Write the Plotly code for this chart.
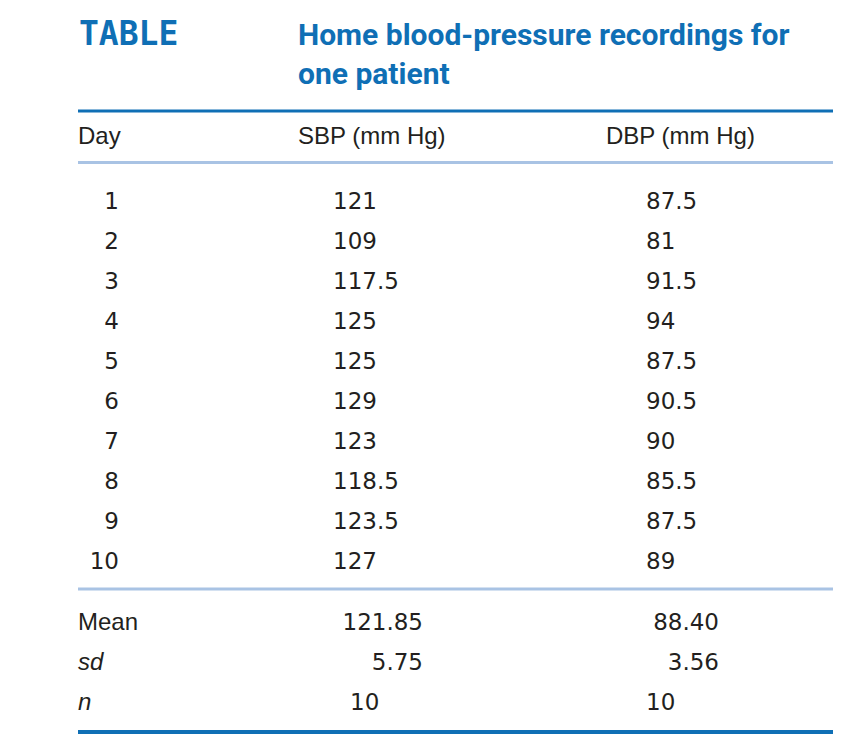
import plotly.graph_objects as go

# ---- data ----
days = [1, 2, 3, 4, 5, 6, 7, 8, 9, 10]
sbp = ["121", "109", "117.5", "125", "125", "129", "123", "118.5", "123.5", "127"]
dbp = ["87.5", "81", "91.5", "94", "87.5", "90.5", "90", "85.5", "87.5", "89"]
stat_labels = ["Mean", "<i>sd</i>", "<i>n</i>"]
sbp_stats = ["121.85", "5.75", "10"]
dbp_stats = ["88.40", "3.56", "10"]
headers = ["Day", "SBP (mm Hg)", "DBP (mm Hg)"]
title_tag = "TABLE"
title_text = "Home blood-pressure recordings for<br>one patient"

# ---- layout constants ----
PAGE_W, PAGE_H = 848, 748
OFF = 8  # default page body margin
W, H = PAGE_W - OFF, PAGE_H - OFF
TXT = "#231f20"
BLUE = "#0f6fb5"
LIGHT = "#a9c3e4"
LABEL_FONT = "Liberation Sans, Arial, sans-serif"
NUM_FONT = "DejaVu Sans, sans-serif"

row0_y = 203
row_step = 40
stat0_y = 624
header_y = 138

fig = go.Figure()

def text_trace(xs, ys, texts, pos, family=NUM_FONT, size=23):
    fig.add_trace(go.Scatter(
        x=xs, y=ys, text=texts, mode="text", textposition=pos,
        textfont=dict(family=family, size=size, color=TXT),
        hoverinfo="skip", showlegend=False, cliponaxis=False))

data_y = [row0_y + i * row_step for i in range(len(days))]
stat_y = [stat0_y + i * row_step for i in range(len(stat_labels))]

# header
text_trace([78, 298, 606], [header_y] * 3, headers, "middle right", LABEL_FONT, 24)
# day column (right aligned)
text_trace([119] * len(days), data_y, [str(d) for d in days], "middle left")
# SBP / DBP columns (left aligned)
text_trace([333] * len(sbp), data_y, sbp, "middle right")
text_trace([646] * len(dbp), data_y, dbp, "middle right")
# stats
text_trace([78] * 3, stat_y, stat_labels, "middle right", LABEL_FONT, 24)
text_trace([423] * 2, stat_y[:2], sbp_stats[:2], "middle left")
text_trace([350], stat_y[2:], sbp_stats[2:], "middle right")
text_trace([719] * 2, stat_y[:2], dbp_stats[:2], "middle left")
text_trace([646], stat_y[2:], dbp_stats[2:], "middle right")

# rules
rules = [(111, BLUE, 3), (162.5, LIGHT, 3), (589, LIGHT, 3), (732, BLUE, 4)]
for y, c, w in rules:
    fig.add_shape(type="line", x0=78, x1=833, y0=y, y1=y, xref="x", yref="y",
                  line=dict(color=c, width=w))

# title
fig.add_annotation(x=77, y=33, xref="x", yref="y", text="<b>" + title_tag + "</b>",
                   showarrow=False, xanchor="left", yanchor="middle",
                   font=dict(family="DejaVu Sans Mono, monospace", size=33, color=BLUE))
fig.add_annotation(x=296, y=54, xref="x", yref="y", text="<b>" + title_text + "</b>",
                   showarrow=False, xanchor="left", yanchor="middle", align="left",
                   font=dict(family="Roboto, Arial, sans-serif", size=30, color=BLUE))

fig.update_xaxes(range=[OFF, PAGE_W], visible=False, fixedrange=True)
fig.update_yaxes(range=[PAGE_H, OFF], visible=False, fixedrange=True)
fig.update_layout(width=W, height=H, margin=dict(l=0, r=0, t=0, b=0),
                  plot_bgcolor="white", paper_bgcolor="white")

fig.write_html("out.html")
